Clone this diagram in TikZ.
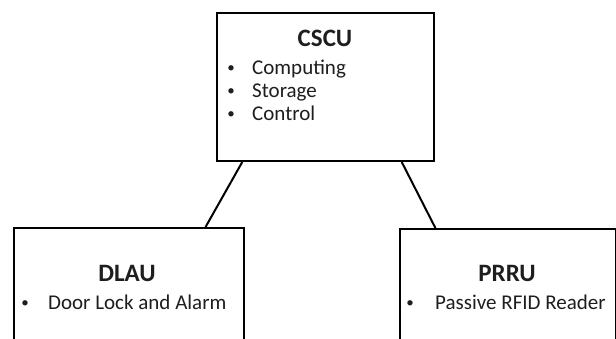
\documentclass[tikz,border=0pt]{standalone}
\usepackage{fontspec}
\setmainfont{Carlito}
\usetikzlibrary{calc}
\definecolor{txt}{RGB}{30,30,30}
\tikzset{
  box/.style={draw=black, line width=2pt, fill=white, rectangle, anchor=north west, inner sep=0pt},
  conn/.style={draw=black, line width=2pt},
  ttl/.style={font=\fontsize{25}{28}\selectfont\bfseries, text=txt, anchor=base, inner sep=0pt},
  itm/.style={font=\fontsize{21}{24}\selectfont, text=txt, anchor=base west, inner sep=0pt},
  bul/.style={font=\fontsize{15}{18}\selectfont, text=txt, anchor=base, inner sep=0pt}
}
\begin{document}
\begin{tikzpicture}[x=1pt,y=-1pt]
\useasboundingbox (0,0) rectangle (616,339);
\clip (0,0) rectangle (616,339);
\fill[white] (0,0) rectangle (616,339);
% boxes
\node[box, minimum width=217pt, minimum height=148pt] (cscu) at (216,12) {};
\node[box, minimum width=230pt, minimum height=160pt] (dlau) at (13,227) {};
\node[box, minimum width=216pt, minimum height=160pt] (prru) at (399,228) {};
% connectors
\draw[conn] ($(cscu.south west)!0.12!(cscu.south east)$) -- ($(dlau.north west)!0.83!(dlau.north east)$);
\draw[conn] ($(cscu.south west)!0.848!(cscu.south east)$) -- ($(prru.north west)!0.167!(prru.north east)$);
% CSCU text
\node[ttl] (t1) at (325,47) {CSCU};
\node[bul] (b1) at (231,73) {\textbullet};
\node[itm] (i1) at (252,75) {Computing};
\node[bul] (b2) at (231,96) {\textbullet};
\node[itm] (i2) at (252,98) {Storage};
\node[bul] (b3) at (231,119) {\textbullet};
\node[itm] (i3) at (252,121) {Control};
% DLAU text
\node[ttl] (t2) at (127,282) {DLAU};
\node[bul] (b4) at (25,307) {\textbullet};
\node[itm] (i4) at (48,309) {Door Lock and Alarm};
% PRRU text
\node[ttl] (t3) at (507,281) {PRRU};
\node[bul] (b5) at (410,307) {\textbullet};
\node[itm] (i5) at (435,309) {Passive RFID Reader};
\end{tikzpicture}
\end{document}
